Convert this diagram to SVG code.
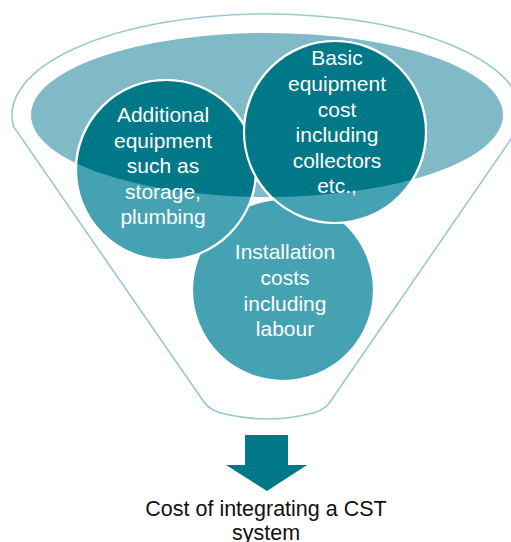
<svg xmlns="http://www.w3.org/2000/svg" width="511" height="542" viewBox="0 0 511 542">
  <style>
    .lbl { font-family: "Liberation Sans", Arial, sans-serif; font-size: 21px; fill: #ffffff; text-anchor: middle; }
    .out { font-family: "Liberation Sans", Arial, sans-serif; font-size: 21.5px; fill: #111111; text-anchor: middle; }
    .lt { fill: #45a2b2; stroke: #ffffff; stroke-width: 2.2; }
    .dk { fill: #007888; stroke: #ffffff; stroke-width: 2.2; }
  </style>
  <defs>
    <clipPath id="ellClip">
      <ellipse cx="267" cy="115" rx="236" ry="82"/>
    </clipPath>
  </defs>
  <rect width="511" height="542" fill="#ffffff"/>
  <g id="funnel">
    <path d="M 13.8 127 A 255 101 0 1 1 520.7 125 L 330 402 Q 324 411 309 414 Q 267 424 225 414 Q 210 411 204 402 Z" fill="#ffffff" stroke="#98c9d3" stroke-width="1.6"/>
    <ellipse cx="267" cy="115" rx="236" ry="82" fill="#80bac6"/>
  </g>
  <g id="node-installation">
    <circle class="lt" cx="283" cy="290" r="91"/>
  </g>
  <g id="node-additional">
    <circle class="lt" cx="166" cy="170" r="90"/>
  </g>
  <g id="node-basic">
    <circle class="lt" cx="335" cy="132" r="91"/>
  </g>
  <g id="overlap" clip-path="url(#ellClip)">
    <circle class="dk" cx="166" cy="170" r="90"/>
    <circle class="dk" cx="335" cy="132" r="91"/>
  </g>
  <g id="labels">
    <text class="lbl" x="163"><tspan x="163" y="122">Additional</tspan><tspan x="163" y="147.5">equipment</tspan><tspan x="163" y="173">such as</tspan><tspan x="163" y="198.5">storage,</tspan><tspan x="163" y="224">plumbing</tspan></text>
    <text class="lbl" x="337"><tspan x="337" y="65">Basic</tspan><tspan x="337" y="91">equipment</tspan><tspan x="337" y="116.5">cost</tspan><tspan x="337" y="142">including</tspan><tspan x="337" y="167.5">collectors</tspan><tspan x="337" y="193">etc.,</tspan></text>
    <text class="lbl" x="285"><tspan x="285" y="259">Installation</tspan><tspan x="285" y="285">costs</tspan><tspan x="285" y="310.5">including</tspan><tspan x="285" y="336">labour</tspan></text>
  </g>
  <g id="connectors">
    <polygon points="245,435 288,435 288,465 307,465 267,491 226,465 245,465" fill="#007888"/>
  </g>
  <g id="result">
    <text class="out"><tspan x="266" y="516">Cost of integrating a CST</tspan><tspan x="266" y="540">system</tspan></text>
  </g>
</svg>
